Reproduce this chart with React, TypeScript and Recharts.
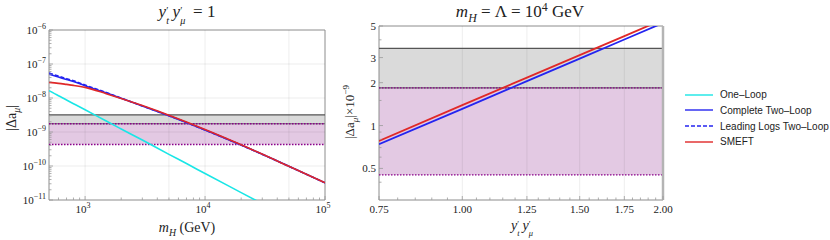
import React from 'react';
import { LineChart, Line, XAxis, YAxis, ReferenceArea, ReferenceLine } from 'recharts';

// ---------- Left panel data (y_t' y_mu' = 1) ----------
const massGeV = [500, 600, 700, 800, 1000, 1500, 2000, 3000, 5000, 7000, 10000, 20000, 50000, 100000];
const oneLoop = [1.64e-8, 1.17e-8, 8.7e-9, 6.8e-9, 4.5e-9, 2.1e-9, 1.23e-9, 5.8e-10, 2.2e-10, 1.18e-10, 6.0e-11, 1.65e-11, 3.0e-12, 8e-13];
const completeTwoLoop = [5.0e-8, 4.13e-8, 3.5e-8, 3.05e-8, 2.3e-8, 1.42e-8, 9.8e-9, 5.85e-9, 3.0e-9, 1.9e-9, 1.15e-9, 4.12e-10, 9.8e-11, 3.2e-11];
const leadingLogs = [5.4e-8, 4.4e-8, 3.7e-8, 3.2e-8, 2.4e-8, 1.45e-8, 9.9e-9, 5.85e-9, 3.0e-9, 1.9e-9, 1.15e-9, 4.12e-10, 9.8e-11, 3.2e-11];
const smeftLeft = [2.88e-8, 2.7e-8, 2.51e-8, 2.35e-8, 2.05e-8, 1.34e-8, 9.7e-9, 5.97e-9, 3.1e-9, 1.96e-9, 1.18e-9, 4.19e-10, 9.8e-11, 3.2e-11];
const leftBand = [4.3e-10, 1.75e-9, 3.2e-9]; // bottom, middle, top
const leftXMajor = [1000, 10000, 100000];
const leftXMinor = [600, 700, 800, 900, 2000, 3000, 4000, 5000, 6000, 7000, 8000, 9000, 20000, 30000, 40000, 50000, 60000, 70000, 80000, 90000];
const leftYMajor = [1e-11, 1e-10, 1e-9, 1e-8, 1e-7, 1e-6];
const leftXGrid = [1000, 5000, 10000, 50000];

// ---------- Right panel data (m_H = Lambda = 10^4 GeV) ----------
const coupling = [0.75, 1.0, 1.25, 1.5, 1.75, 2.0];
const smeftRight = [0.78, 1.39, 2.17, 3.12, 4.25, 5.55];
const completeRight = [0.74, 1.31, 2.05, 2.95, 4.02, 5.25];
const rightBand = [0.45, 1.84, 3.48];
const rightXMajor = [0.75, 1.0, 1.25, 1.5, 1.75, 2.0];
const rightXMinor = [0.8, 0.85, 0.9, 0.95, 1.05, 1.1, 1.15, 1.2, 1.3, 1.35, 1.4, 1.45, 1.55, 1.6, 1.65, 1.7, 1.8, 1.85, 1.9, 1.95];
const rightYMajor = [0.5, 1, 2, 3, 5];
const rightYMinor = [0.4, 0.6, 0.7, 0.8, 0.9, 1.5, 4];
const rightXGrid = [1.0, 1.25, 1.5, 1.75];

const legendItems = [
  { name: 'One\u2013Loop', color: '#19e6e6', dash: '' },
  { name: 'Complete Two\u2013Loop', color: '#2424f0', dash: '' },
  { name: 'Leading Logs Two\u2013Loop', color: '#2424f0', dash: '4 2' },
  { name: 'SMEFT', color: '#e02828', dash: '' },
];

const leftRows = massGeV.map((m, i) => ({
  m,
  one: oneLoop[i],
  complete: completeTwoLoop[i],
  leading: leadingLogs[i],
  smeft: smeftLeft[i],
}));
const rightRows = coupling.map((c, i) => ({ c, smeft: smeftRight[i], complete: completeRight[i] }));

const leftYMinor: number[] = [];
for (let e = -11; e < -6; e++) for (let k = 2; k <= 9; k++) leftYMinor.push(k * Math.pow(10, e));

const SERIF = '"Liberation Serif", "DejaVu Serif", serif';
const SANS = '"Liberation Sans", Arial, sans-serif';
const TICK = '#9a9a9a';
const FRAME = '#8c8c8c';

const isIn = (arr: number[], v: number) => arr.some((a) => Math.abs(a - v) / Math.abs(a) < 1e-6);
const minus = (s: string) => s.replace('-', '\u2212');

const PowTick = (props: any) => {
  const { x, y, payload, majors, axis } = props;
  const v = payload.value;
  const major = isIn(majors, v);
  const len = major ? 4 : 2.5;
  const e = Math.round(Math.log10(v));
  if (axis === 'y') {
    return (
      <g>
        <line x1={x} x2={x + len} y1={y} y2={y} stroke={TICK} strokeWidth={0.8} />
        {major && (
          <text x={x - 3} y={y + 4} textAnchor="end" fontFamily={SERIF} fontSize={11} fill="#222">
            <tspan>10</tspan>
            <tspan dy={-5} fontSize={8}>{minus(String(e))}</tspan>
          </text>
        )}
      </g>
    );
  }
  return (
    <g>
      <line x1={x} x2={x} y1={y} y2={y - len} stroke={TICK} strokeWidth={0.8} />
      {major && (
        <text x={x - 2} y={y + 13} textAnchor="middle" fontFamily={SERIF} fontSize={11} fill="#222">
          <tspan>10</tspan>
          <tspan dy={-5} fontSize={8}>{String(e)}</tspan>
        </text>
      )}
    </g>
  );
};

const NumTick = (props: any) => {
  const { x, y, payload, majors, axis, fmt } = props;
  const v = payload.value;
  const major = isIn(majors, v);
  const len = major ? 4 : 2.5;
  if (axis === 'y') {
    return (
      <g>
        <line x1={x} x2={x + len} y1={y} y2={y} stroke={TICK} strokeWidth={0.8} />
        {major && (
          <text x={x - 3} y={y + 4} textAnchor="end" fontFamily={SERIF} fontSize={11} fill="#222">
            {fmt(v)}
          </text>
        )}
      </g>
    );
  }
  return (
    <g>
      <line x1={x} x2={x} y1={y} y2={y - len} stroke={TICK} strokeWidth={0.8} />
      {major && (
        <text x={x} y={y + 13} textAnchor="middle" fontFamily={SERIF} fontSize={11} fill="#222">
          {fmt(v)}
        </text>
      )}
    </g>
  );
};

const centered = (cx: number, cy: number, extra: React.CSSProperties = {}): React.CSSProperties => ({
  position: 'absolute',
  left: cx,
  top: cy,
  transform: 'translate(-50%, -50%)',
  whiteSpace: 'nowrap',
  fontFamily: SERIF,
  color: '#222',
  lineHeight: 1,
  ...extra,
});

// y with a prime above and a subscript below, stacked so they never overlap
const Yp = ({ sub, gap = true }: { sub: string; gap?: boolean }) => (
  <span style={{ marginRight: gap ? '0.2em' : 0 }}>
    <i>y</i>
    <span
      style={{
        display: 'inline-flex',
        flexDirection: 'column',
        fontSize: '0.6em',
        lineHeight: 1,
        verticalAlign: '0.3em',
        marginLeft: '0.02em',
      }}
    >
      <span>{'\u2032'}</span>
      <i>{sub}</i>
    </span>
  </span>
);

export default function App() {
  return (
    <div style={{ position: 'absolute', left: 0, top: 0, width: 830, height: 240, background: '#fff', overflow: 'hidden' }}>
      {/* Left panel */}
      <div style={{ position: 'absolute', left: 0, top: 0 }}>
        <LineChart width={340} height={240} data={leftRows} margin={{ top: 30, right: 15, bottom: 0, left: 0 }}>
          <XAxis
            dataKey="m"
            type="number"
            scale="log"
            domain={[500, 100000]}
            allowDataOverflow
            ticks={[...leftXMajor, ...leftXMinor]}
            interval={0}
            tickSize={0}
            tickMargin={0}
            axisLine={false}
            tickLine={false}
            height={40}
            tick={(p: any) => <PowTick {...p} majors={leftXMajor} axis="x" />}
          />
          <YAxis
            type="number"
            scale="log"
            domain={[1e-11, 1e-6]}
            allowDataOverflow
            ticks={[...leftYMajor, ...leftYMinor]}
            interval={0}
            tickSize={0}
            tickMargin={0}
            axisLine={false}
            tickLine={false}
            width={49}
            tick={(p: any) => <PowTick {...p} majors={leftYMajor} axis="y" />}
          />
          <ReferenceArea y1={leftBand[1]} y2={leftBand[2]} fill="#dadada" fillOpacity={1} stroke="none" />
          <ReferenceArea y1={leftBand[0]} y2={leftBand[1]} fill="#e3c9e3" fillOpacity={1} stroke="none" />
          {leftXGrid.map((g) => (
            <ReferenceLine key={'gx' + g} x={g} stroke="#000" strokeOpacity={0.07} strokeWidth={1} />
          ))}
          {leftYMajor.slice(1, -1).map((g) => (
            <ReferenceLine key={'gy' + g} y={g} stroke="#000" strokeOpacity={0.07} strokeWidth={1} />
          ))}
          <ReferenceLine y={leftBand[2]} stroke="#555" strokeWidth={1.2} />
          <ReferenceLine y={leftBand[1]} stroke="#666" strokeWidth={1.2} />
          <ReferenceLine y={leftBand[1]} stroke="#8a008a" strokeWidth={1.4} strokeDasharray="1.5 1.5" />
          <ReferenceLine y={leftBand[0]} stroke="#8a008a" strokeWidth={1.4} strokeDasharray="1.5 1.5" />
          <Line type="monotone" dataKey="one" stroke="#19e6e6" strokeWidth={1.6} dot={false} isAnimationActive={false} />
          <Line type="monotone" dataKey="complete" stroke="#2424f0" strokeWidth={1.6} dot={false} isAnimationActive={false} />
          <Line type="monotone" dataKey="leading" stroke="#2424f0" strokeWidth={1.6} strokeDasharray="4 2" dot={false} isAnimationActive={false} />
          <Line type="monotone" dataKey="smeft" stroke="#e02828" strokeWidth={1.6} dot={false} isAnimationActive={false} />
          <ReferenceArea x1={500} x2={100000} y1={1e-11} y2={1e-6} fill="none" stroke={FRAME} strokeWidth={1} />
        </LineChart>
      </div>

      {/* Right panel */}
      <div style={{ position: 'absolute', left: 340, top: 0 }}>
        <LineChart width={345} height={240} data={rightRows} margin={{ top: 26, right: 22, bottom: 0, left: 0 }}>
          <XAxis
            dataKey="c"
            type="number"
            scale="log"
            domain={[0.75, 2.0]}
            allowDataOverflow
            ticks={[...rightXMajor, ...rightXMinor]}
            interval={0}
            tickSize={0}
            tickMargin={0}
            axisLine={false}
            tickLine={false}
            height={40}
            tick={(p: any) => <NumTick {...p} majors={rightXMajor} axis="x" fmt={(v: number) => v.toFixed(2)} />}
          />
          <YAxis
            type="number"
            scale="log"
            domain={[0.3, 5]}
            allowDataOverflow
            ticks={[...rightYMajor, ...rightYMinor]}
            interval={0}
            tickSize={0}
            tickMargin={0}
            axisLine={false}
            tickLine={false}
            width={39}
            tick={(p: any) => <NumTick {...p} majors={rightYMajor} axis="y" fmt={(v: number) => String(v)} />}
          />
          <ReferenceArea y1={rightBand[1]} y2={rightBand[2]} fill="#dadada" fillOpacity={1} stroke="none" />
          <ReferenceArea y1={rightBand[0]} y2={rightBand[1]} fill="#e3c9e3" fillOpacity={1} stroke="none" />
          {rightXGrid.map((g) => (
            <ReferenceLine key={'rgx' + g} x={g} stroke="#000" strokeOpacity={0.07} strokeWidth={1} />
          ))}
          <ReferenceLine y={rightBand[2]} stroke="#555" strokeWidth={1.2} />
          <ReferenceLine y={rightBand[1]} stroke="#666" strokeWidth={1.2} />
          <ReferenceLine y={rightBand[1]} stroke="#8a008a" strokeWidth={1.4} strokeDasharray="1.5 1.5" />
          <ReferenceLine y={rightBand[0]} stroke="#8a008a" strokeWidth={1.4} strokeDasharray="1.5 1.5" />
          <ReferenceLine x={2.0} stroke="#b4b4b4" strokeWidth={2.5} />
          <Line dataKey="complete" stroke="#2424f0" strokeWidth={1.8} dot={false} isAnimationActive={false} />
          <Line dataKey="smeft" stroke="#e02828" strokeWidth={1.8} dot={false} isAnimationActive={false} />
          <ReferenceArea x1={0.75} x2={2.0} y1={0.3} y2={5} fill="none" stroke={FRAME} strokeWidth={1} />
        </LineChart>
      </div>

      {/* Titles */}
      <div style={centered(187, 15, { fontSize: 17 })}>
        <Yp sub="t" />
        <Yp sub={'\u03bc'} /> = 1
      </div>
      <div style={centered(520, 13, { fontSize: 17 })}>
        <i>m</i>
        <sub style={{ fontSize: '0.7em' }}><i>H</i></sub> = {'\u039b'} = 10<sup style={{ fontSize: '0.7em' }}>4</sup> GeV
      </div>

      {/* Axis labels */}
      <div style={centered(187, 229, { fontSize: 14 })}>
        <i>m</i>
        <sub style={{ fontSize: '0.7em' }}><i>H</i></sub> (GeV)
      </div>
      <div style={centered(522, 229, { fontSize: 14 })}>
        <Yp sub="t" />
        <Yp sub={'\u03bc'} gap={false} />
      </div>
      <div style={centered(13, 118, { fontSize: 14, transform: 'translate(-50%, -50%) rotate(-90deg)' })}>
        |{'\u0394'}a<sub style={{ fontSize: '0.7em' }}><i>{'\u03bc'}</i></sub>|
      </div>
      <div style={centered(351, 112, { fontSize: 13, transform: 'translate(-50%, -50%) rotate(-90deg)' })}>
        |{'\u0394'}a<sub style={{ fontSize: '0.7em' }}><i>{'\u03bc'}</i></sub>|{'\u00d7'}10
        <sup style={{ fontSize: '0.7em' }}>{'\u2212'}9</sup>
      </div>

      {/* Legend */}
      {legendItems.map((it, i) => (
        <div
          key={it.name}
          style={{
            position: 'absolute',
            left: 685,
            top: 94.7 + i * 15.7 - 7,
            height: 14,
            display: 'flex',
            alignItems: 'center',
            fontFamily: SANS,
            fontSize: 10,
            color: '#222',
            whiteSpace: 'nowrap',
          }}
        >
          <svg width={30} height={14} style={{ display: 'block' }}>
            <line x1={0} x2={28} y1={7} y2={7} stroke={it.color} strokeWidth={1.4} strokeDasharray={it.dash || undefined} />
          </svg>
          <span style={{ marginLeft: 5 }}>{it.name}</span>
        </div>
      ))}
    </div>
  );
}
